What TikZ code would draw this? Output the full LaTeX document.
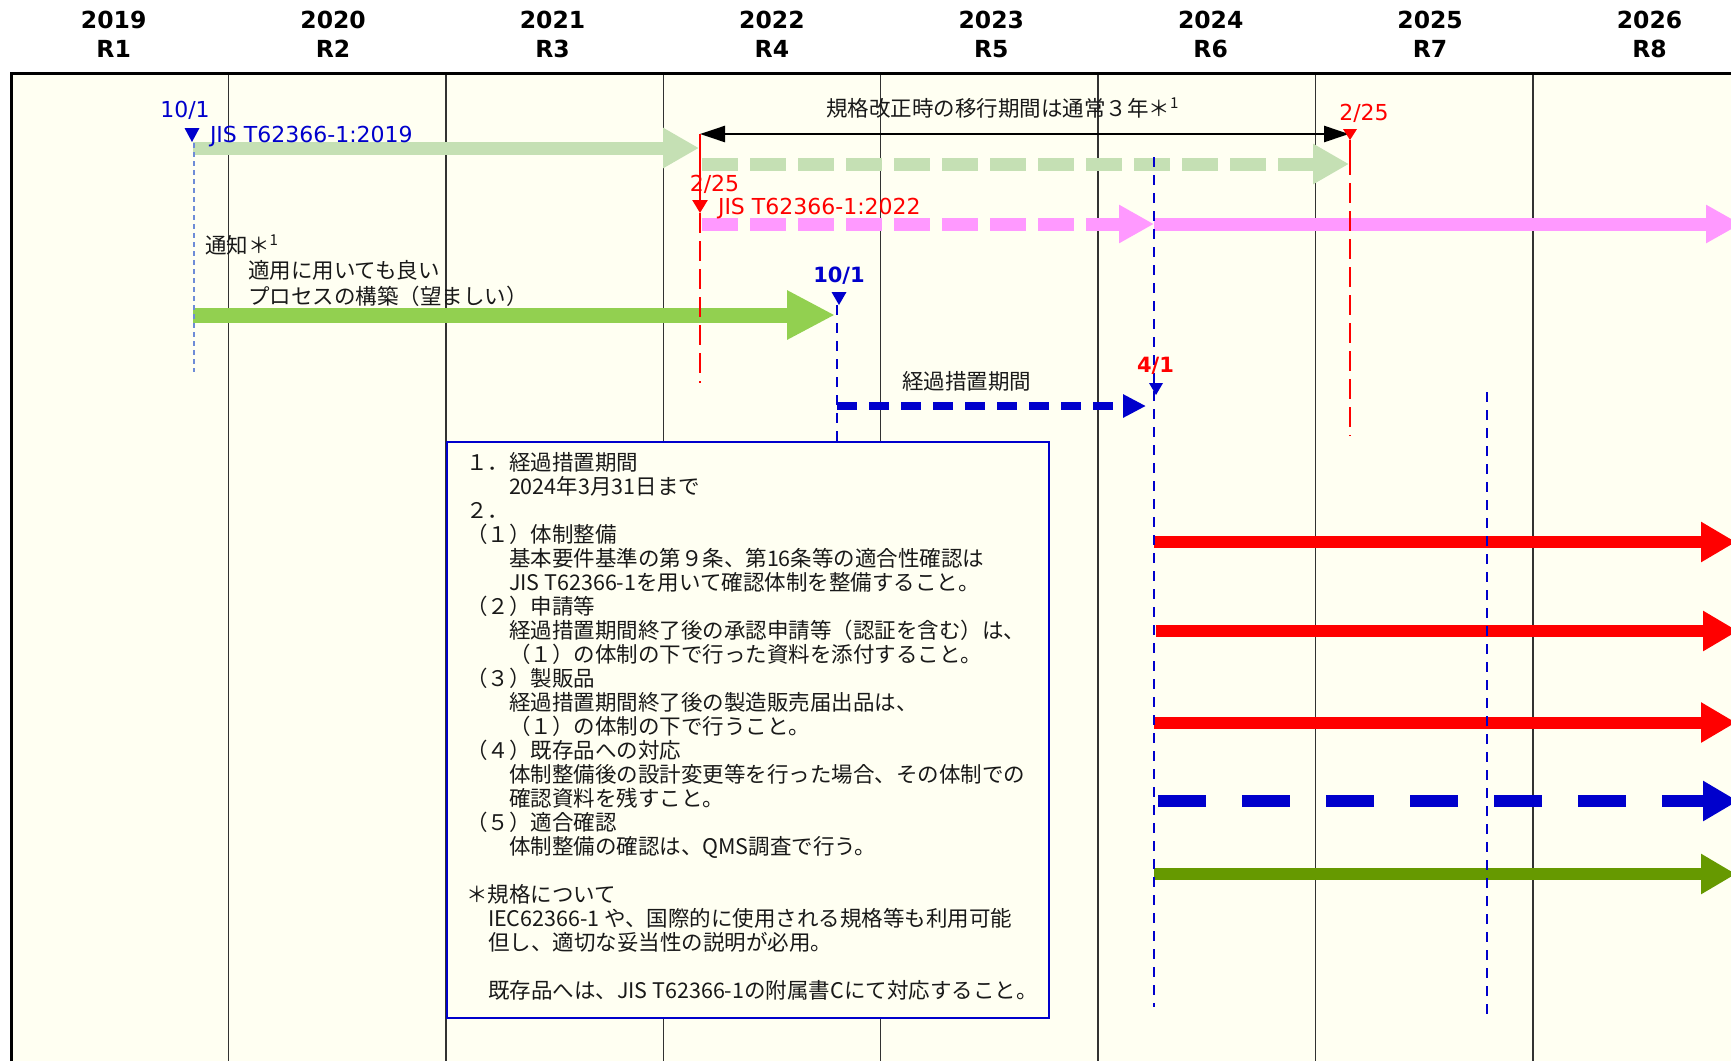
\documentclass[tikz,border=0pt]{standalone}
\usepackage{fontspec}
\setmainfont{Noto Sans CJK JP}
\newfontfamily\lat{DejaVu Sans}
\usetikzlibrary{arrows.meta}
\definecolor{cream}{RGB}{255,255,242}
\definecolor{lgreen}{RGB}{197,224,180}
\definecolor{mgreen}{RGB}{146,208,80}
\definecolor{dgreen}{RGB}{102,153,0}
\definecolor{pinkc}{RGB}{255,153,255}
\definecolor{blu}{RGB}{0,0,204}
\definecolor{lblue}{RGB}{110,140,215}
\definecolor{gridc}{RGB}{50,50,50}
\definecolor{txt}{RGB}{25,25,25}
\begin{document}
\begin{tikzpicture}[x=1pt,y=-1pt,
  every node/.style={inner sep=0pt,outer sep=0pt},
  jp/.style={font=\fontsize{21.5}{24}\selectfont,text=txt},
  hdr/.style={font=\lat\bfseries\fontsize{23.5}{28}\selectfont,anchor=base},
  lab/.style={font=\lat\fontsize{22}{24}\selectfont},
  labb/.style={font=\lat\bfseries\fontsize{21}{24}\selectfont},
  gridline/.style={draw=gridc,line width=1.4pt},
  fat/.style={line width=13pt,-{Triangle[length=36pt,width=38pt]}},
  rowarrow/.style={line width=12pt,-{Triangle[length=35pt,width=38pt]}},
  longdash/.style={dash pattern=on 36pt off 12pt},
  reddash/.style={draw=red,line width=2.5pt,dash pattern=on 20pt off 8pt},
  bluedash/.style={draw=blu,line width=2.6pt,dash pattern=on 10pt off 8pt},
]
\useasboundingbox (0,0) rectangle (1731,1061);
\clip (0,0) rectangle (1731,1061);
\fill[white] (0,0) rectangle (1731,1061);
\fill[cream] (11,74) rectangle (1731,1061);

% grid
\foreach \i in {1,...,7}{
  \draw[gridline] ({11+217.4*\i},74) -- ({11+217.4*\i},1061);
}
\draw[black,line width=3pt] (11,1061) -- (11,73.5) -- (1731,73.5);

% header
\foreach \i/\yr/\rr in {0/2019/R1,1/2020/R2,2/2021/R3,3/2022/R4,4/2023/R5,5/2024/R6,6/2025/R7,7/2026/R8}{
  \node[hdr,name=yr\i] at ({113.7+219.4*\i},28.5) {\yr};
  \node[hdr,name=rn\i] at ({113.7+219.4*\i},57.5) {\rr};
}

% coordinates
\coordinate (g1s) at (193,148);  \coordinate (g1e) at (699,148);
\coordinate (g2s) at (702,164);  \coordinate (g2e) at (1349,164);
\coordinate (p1s) at (702,224);  \coordinate (p1e) at (1154,224);
\coordinate (p2e) at (1741,224);
\coordinate (gns) at (193,315);  \coordinate (gne) at (835,315);
\coordinate (tbs) at (837,406);  \coordinate (tbe) at (1146,406);
\coordinate (da) at (700,134);   \coordinate (db) at (1349,134);

% upper arrows
\draw[lgreen,fat] (g1s) -- (g1e);
\draw[lgreen,fat,longdash] (g2s) -- (g2e);
\draw[pinkc,fat,longdash,-{Triangle[length=35pt,width=36pt]}] (p1s) -- (p1e);
\draw[pinkc,fat,-{Triangle[length=35pt,width=36pt]}] (p1e) -- (p2e);
\draw[mgreen,line width=15pt,-{Triangle[length=48pt,width=46pt]}] (gns) -- (gne);
\draw[blu,line width=8pt,dash pattern=on 20pt off 12pt,-{Triangle[length=23pt,width=22pt]}] (tbs) -- (tbe);
\draw[black,line width=2.5pt,{Triangle[length=25pt,width=16pt]}-{Triangle[length=25pt,width=16pt]}] (da) -- (db);

% right arrows
\coordinate (r1s) at (1154,542);   \coordinate (r1e) at (1736,542);
\coordinate (r2s) at (1156,631);   \coordinate (r2e) at (1738,631);
\coordinate (r3s) at (1154,722.5); \coordinate (r3e) at (1736,722.5);
\coordinate (r4s) at (1158,801);   \coordinate (r4e) at (1738,801);
\coordinate (r5s) at (1154,874);   \coordinate (r5e) at (1736,874);
\draw[red,rowarrow] (r1s) -- (r1e);
\draw[red,rowarrow] (r2s) -- (r2e);
\draw[red,rowarrow] (r3s) -- (r3e);
\draw[blu,rowarrow,dash pattern=on 48pt off 36pt] (r4s) -- (r4e);
\draw[dgreen,rowarrow] (r5s) -- (r5e);

% vertical markers
\draw[lblue,line width=1.5pt,dash pattern=on 5pt off 4pt] (194,143) -- (194,372);
\fill[blu] (192,142) -- (184.5,128) -- (199.5,128) -- cycle;

\coordinate (ra) at (700,134); \coordinate (rb) at (700,213); \coordinate (rc) at (700,383);
\draw[red,line width=2.5pt,-{Triangle[length=13pt,width=15pt]}] (ra) -- (rb);
\draw[reddash] (rb) -- (rc);

\coordinate (rd) at (1350,140); \coordinate (re) at (1350,155); \coordinate (rf) at (1350,436);
\fill[red] (rd) -- (1343,129) -- (1357,129) -- cycle;
\draw[red,line width=2.5pt] (rd) -- (re);
\draw[reddash] (re) -- (rf);

\coordinate (ba) at (837,305); \coordinate (bb) at (837,442);
\draw[bluedash] (ba) -- (bb);
\fill[blu] (839,305) -- (831.5,292) -- (846.5,292) -- cycle;

\coordinate (bc) at (1154,157); \coordinate (bd) at (1154,1007);
\draw[bluedash] (bc) -- (bd);
\fill[blu] (1156,395) -- (1149,383) -- (1163,383) -- cycle;

\coordinate (be) at (1487,392); \coordinate (bf) at (1487,1016);
\draw[bluedash] (be) -- (bf);

% labels
\node[lab,text=blu,anchor=base,name=d101] at (185,117) {10/1};
\node[lab,text=blu,anchor=base west,name=jis2019] at (210,142) {JIS T62366-1:2019};
\node[lab,text=red,anchor=base,name=d225a] at (714.5,191) {2/25};
\node[lab,text=red,anchor=base west,name=jis2022] at (718,214) {JIS T62366-1:2022};
\node[lab,text=red,anchor=base,name=d225b] at (1364,120) {2/25};
\node[labb,text=blu,anchor=base,name=d101b] at (839,282.5) {10/1};
\node[labb,text=red,anchor=base,name=d41] at (1155.5,372.5) {4/1};

\node[jp,anchor=base west,name=trans] at (826,116.5) {規格改正時の移行期間は通常３年＊\textsuperscript{1}};
\node[jp,anchor=base west,name=tsuchi] at (205,253) {通知＊\textsuperscript{1}};
\node[jp,anchor=base west,name=tekiyo] at (248,278) {適用に用いても良い};
\node[jp,anchor=base west,name=process] at (248,304) {プロセスの構築（望ましい）};
\node[jp,anchor=base west,name=keika] at (902,389) {経過措置期間};

% note box
\node[draw=blu,fill=cream,line width=2pt,minimum width=602pt,minimum height=576pt,anchor=north west,name=notebox] at (447,442) {};
\foreach \n/\xx/\t in {
 1/466/{１．経過措置期間},
 2/509/{2024年3月31日まで},
 3/466/{２．},
 4/466/{（１）体制整備},
 5/509/{基本要件基準の第９条、第16条等の適合性確認は},
 6/509/{JIS T62366-1を用いて確認体制を整備すること。},
 7/466/{（２）申請等},
 8/509/{経過措置期間終了後の承認申請等（認証を含む）は、},
 9/509/{（１）の体制の下で行った資料を添付すること。},
 10/466/{（３）製販品},
 11/509/{経過措置期間終了後の製造販売届出品は、},
 12/509/{（１）の体制の下で行うこと。},
 13/466/{（４）既存品への対応},
 14/509/{体制整備後の設計変更等を行った場合、その体制での},
 15/509/{確認資料を残すこと。},
 16/466/{（５）適合確認},
 17/509/{体制整備の確認は、QMS調査で行う。},
 19/466/{＊規格について},
 20/488/{IEC62366-1 や、国際的に使用される規格等も利用可能},
 21/488/{但し、適切な妥当性の説明が必用。},
 23/488/{既存品へは、JIS T62366-1の附属書Cにて対応すること。}}{
  \node[jp,anchor=base west,name=ln\n] at (\xx,{470+24*(\n-1)}) {\t};
}
\end{tikzpicture}
\end{document}
